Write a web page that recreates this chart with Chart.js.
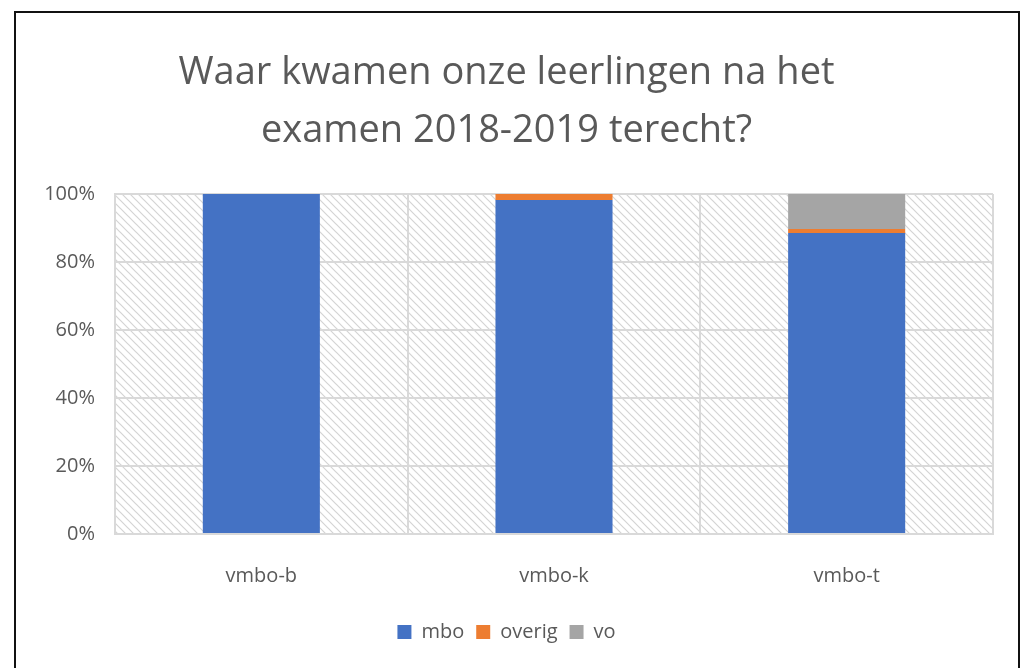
<!DOCTYPE html>
<html>
<head>
<meta charset="utf-8">
<script src="https://cdn.jsdelivr.net/npm/chart.js@4"></script>
<style>
  html, body { margin: 0; padding: 0; background: #fff; }
  #wrap { position: relative; width: 1025px; height: 668px; overflow: hidden; }
  #frame { position: absolute; left: 14px; top: 11px; width: 1006px; height: 700px; border: 2px solid #111; box-sizing: border-box; }
  #box { position: absolute; left: 0; top: 0; width: 1025px; height: 668px; }
</style>
</head>
<body>
<div id="wrap">
  <div id="frame"></div>
  <div id="box"><canvas id="chart"></canvas></div>
</div>
<script>
const categories = ['vmbo-b', 'vmbo-k', 'vmbo-t'];
const mboValues = [100, 98.2, 88.5];
const overigValues = [0, 1.8, 1.2];
const voValues = [0, 0, 10.3];
const yTicks = [0, 20, 40, 60, 80, 100];

const textColor = '#595959';
const fontFamily = '"Open Sans", "Noto Sans", sans-serif';

// light downward diagonal fill behind the plot area, like the Excel pattern
function makeHatch() {
    const c = document.createElement('canvas');
    c.width = 8; c.height = 8;
    const g = c.getContext('2d');
    g.strokeStyle = '#d4d4d4';
    g.lineWidth = 1.2;
    g.beginPath();
    g.moveTo(-2, -2); g.lineTo(10, 10);
    g.moveTo(-2, 6); g.lineTo(2, 10);
    g.moveTo(6, -2); g.lineTo(10, 2);
    g.stroke();
    return c;
}

const hatchPlugin = {
    id: 'hatch',
    beforeDraw(chart) {
        const { ctx, chartArea } = chart;
        ctx.save();
        ctx.fillStyle = ctx.createPattern(makeHatch(), 'repeat');
        ctx.fillRect(chartArea.left, chartArea.top, chartArea.right - chartArea.left, chartArea.bottom - chartArea.top);
        ctx.restore();
    }
};

const ctx = document.getElementById('chart').getContext('2d');
const chart = new Chart(ctx, {
    type: 'bar',
    data: {
        labels: categories,
        datasets: [
            { label: 'mbo', data: mboValues, backgroundColor: '#4472C4' },
            { label: 'overig', data: overigValues, backgroundColor: '#ED7D31' },
            { label: 'vo', data: voValues, backgroundColor: '#A5A5A5' },
        ]
    },
    options: {
        responsive: true,
        maintainAspectRatio: false,
        animation: false,
        categoryPercentage: 1,
        barPercentage: 0.4,
        layout: { padding: { left: 20, right: 32, top: 0, bottom: 16 } },
        plugins: {
            title: {
                display: true,
                text: ['Waar kwamen onze leerlingen na het', 'examen 2018-2019 terecht?'],
                color: textColor,
                font: { family: fontFamily, size: 38, weight: 'normal', lineHeight: 1.526 },
                padding: { top: 44, bottom: 34 }
            },
            legend: {
                display: true,
                position: 'bottom',
                labels: {
                    color: textColor,
                    font: { family: fontFamily, size: 20 },
                    boxWidth: 14,
                    boxHeight: 14,
                    padding: 12
                }
            },
            tooltip: { enabled: false }
        },
        scales: {
            x: {
                stacked: true,
                grid: { color: '#d9d9d9', lineWidth: 2, drawTicks: false, offset: true },
                border: { color: '#d9d9d9', width: 2 },
                ticks: { color: textColor, font: { family: fontFamily, size: 20 }, padding: 30 },
                afterFit(scale) { scale.height = 76; }
            },
            y: {
                stacked: true,
                min: 0,
                max: 100,
                grid: { color: '#d9d9d9', lineWidth: 2, drawTicks: false },
                border: { color: '#d9d9d9', width: 2 },
                afterBuildTicks(scale) { scale.ticks = yTicks.map(v => ({ value: v })); },
                ticks: {
                    color: textColor,
                    font: { family: fontFamily, size: 20 },
                    padding: 20,
                    callback: v => v + '%'
                },
                afterFit(scale) { scale.width = 95; }
            }
        }
    },
    plugins: [ hatchPlugin ],
});
</script>
</body>
</html>
